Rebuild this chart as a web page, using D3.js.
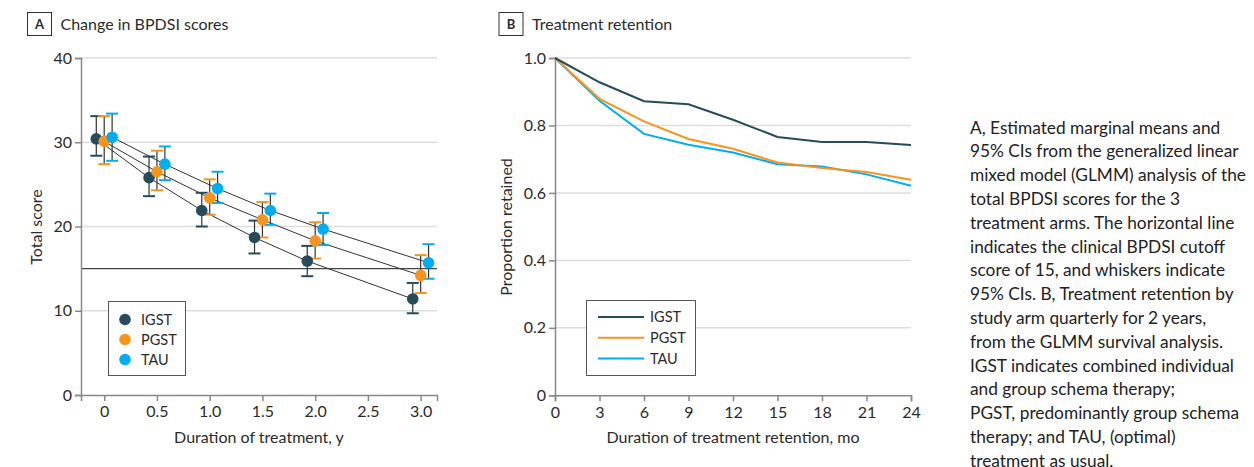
<!DOCTYPE html>
<html lang="en">
<head>
<meta charset="UTF-8">
<title>BPDSI scores and treatment retention</title>
<script src="https://d3js.org/d3.v7.min.js"></script>
<style>
  body { margin: 0; background: #fff; }
  text { font-family: Lato, "Open Sans", sans-serif; fill: #2b2b2b; }
</style>
</head>
<body>
<script>
// ---- data ----
var groups = ["IGST", "PGST", "TAU"];
var colors = ["#264b5b", "#f7941d", "#00aeef"];

// panel A: estimated marginal means with 95% CI
var yearsA = [0, 0.5, 1.0, 1.5, 2.0, 3.0];
var meanIGST = [30.4, 25.8, 21.9, 18.7, 15.9, 11.4];
var lowIGST  = [28.4, 23.6, 20.0, 16.8, 14.1, 9.7];
var highIGST = [33.1, 28.3, 24.0, 20.7, 17.7, 13.3];
var meanPGST = [30.1, 26.5, 23.4, 20.8, 18.3, 14.2];
var lowPGST  = [27.4, 24.3, 21.4, 18.7, 16.2, 12.1];
var highPGST = [33.1, 29.0, 25.6, 22.9, 20.5, 16.6];
var meanTAU  = [30.6, 27.4, 24.5, 21.9, 19.7, 15.7];
var lowTAU   = [27.8, 25.5, 22.8, 20.2, 17.8, 13.8];
var highTAU  = [33.4, 29.5, 26.5, 23.9, 21.6, 17.9];
var offsets  = [-0.075, 0, 0.075];
var cutoff = 15;
var ticksA_x = [0, 0.5, 1.0, 1.5, 2.0, 2.5, 3.0];
var ticksA_y = [0, 10, 20, 30, 40];

// panel B: treatment retention
var monthsB = [0, 3, 6, 9, 12, 15, 18, 21, 24];
var retIGST = [1.0, 0.928, 0.872, 0.863, 0.817, 0.766, 0.751, 0.751, 0.742];
var retPGST = [1.0, 0.879, 0.812, 0.760, 0.731, 0.690, 0.674, 0.662, 0.639];
var retTAU  = [1.0, 0.873, 0.775, 0.743, 0.720, 0.685, 0.678, 0.655, 0.621];
var ticksB_y = [0, 0.2, 0.4, 0.6, 0.8, 1.0];

var caption = [
  "A, Estimated marginal means and",
  "95% CIs from the generalized linear",
  "mixed model (GLMM) analysis of the",
  "total BPDSI scores for the 3",
  "treatment arms. The horizontal line",
  "indicates the clinical BPDSI cutoff",
  "score of 15, and whiskers indicate",
  "95% CIs. B, Treatment retention by",
  "study arm quarterly for 2 years,",
  "from the GLMM survival analysis.",
  "IGST indicates combined individual",
  "and group schema therapy;",
  "PGST, predominantly group schema",
  "therapy; and TAU, (optimal)",
  "treatment as usual."
];

var seriesA = [
  { mean: meanIGST, low: lowIGST, high: highIGST },
  { mean: meanPGST, low: lowPGST, high: highPGST },
  { mean: meanTAU, low: lowTAU, high: highTAU }
];
var seriesB = [retIGST, retPGST, retTAU];

var svg = d3.select("body").append("svg")
  .attr("width", 1254).attr("height", 467);

function panelTitle(x, letter, label) {
  svg.append("rect").attr("x", x).attr("y", 12.5).attr("width", 24).attr("height", 23)
    .attr("fill", "none").attr("stroke", "#333");
  svg.append("text").attr("x", x + 12).attr("y", 29).attr("text-anchor", "middle")
    .attr("font-size", 13).attr("font-weight", "bold").text(letter);
  svg.append("text").attr("x", x + 33).attr("y", 29.5).attr("font-size", 16).text(label);
}

function styleAxis(g) {
  g.selectAll("path").attr("stroke", "#888").attr("stroke-width", 1.5);
  g.selectAll("line").attr("stroke", "#888").attr("stroke-width", 1.5);
  g.selectAll("text").attr("font-size", 16).attr("fill", "#2b2b2b").style("font-family", "Lato, sans-serif");
}

// ---- panel A ----
panelTitle(27.5, "A", "Change in BPDSI scores");

var xA = d3.scaleLinear().domain([-0.22, 3.155]).range([81, 437]);
var yA = d3.scaleLinear().domain([0, 40]).range([395, 58]);

svg.append("g").selectAll("line").data(ticksA_y.filter(function (d) { return d > 0; }))
  .enter().append("line")
  .attr("x1", 81).attr("x2", 437)
  .attr("y1", function (d) { return yA(d); }).attr("y2", function (d) { return yA(d); })
  .attr("stroke", "#ddd").attr("stroke-width", 1.5);

svg.append("line").attr("x1", 81).attr("x2", 437)
  .attr("y1", yA(cutoff)).attr("y2", yA(cutoff))
  .attr("stroke", "#444").attr("stroke-width", 1.2);

var axA_x = svg.append("g").attr("transform", "translate(0,395)")
  .call(d3.axisBottom(xA).tickValues(ticksA_x).tickSizeOuter(0).tickSize(6).tickPadding(5)
    .tickFormat(function (d) { return d === 0 ? "0" : d3.format(".1f")(d); }));
styleAxis(axA_x);
var axA_y = svg.append("g").attr("transform", "translate(81,0)")
  .call(d3.axisLeft(yA).tickValues(ticksA_y).tickSizeOuter(0).tickSize(6).tickPadding(3));
styleAxis(axA_y);

svg.append("text").attr("x", 259).attr("y", 443).attr("text-anchor", "middle")
  .attr("font-size", 16).text("Duration of treatment, y");
svg.append("text").attr("transform", "translate(42,227) rotate(-90)").attr("text-anchor", "middle")
  .attr("font-size", 16).text("Total score");

var lineA = d3.line();
seriesA.forEach(function (s, gi) {
  var pts = yearsA.map(function (t, i) { return [xA(t + offsets[gi]), yA(s.mean[i])]; });
  svg.append("path").attr("d", lineA(pts)).attr("fill", "none")
    .attr("stroke", "#333").attr("stroke-width", 1);
});

seriesA.forEach(function (s, gi) {
  var g = svg.append("g");
  yearsA.forEach(function (t, i) {
    var cx = xA(t + offsets[gi]);
    g.append("line").attr("x1", cx).attr("x2", cx)
      .attr("y1", yA(s.low[i])).attr("y2", yA(s.high[i]))
      .attr("stroke", "#333").attr("stroke-width", 1.2);
    [s.low[i], s.high[i]].forEach(function (v) {
      g.append("line").attr("x1", cx - 6).attr("x2", cx + 6)
        .attr("y1", yA(v)).attr("y2", yA(v))
        .attr("stroke", colors[gi]).attr("stroke-width", 2);
    });
  });
});
seriesA.forEach(function (s, gi) {
  svg.append("g").selectAll("circle").data(yearsA).enter().append("circle")
    .attr("cx", function (t) { return xA(t + offsets[gi]); })
    .attr("cy", function (t, i) { return yA(s.mean[i]); })
    .attr("r", 5.8).attr("fill", colors[gi]);
});

var legA = svg.append("g");
legA.append("rect").attr("x", 108.5).attr("y", 301.5).attr("width", 77).attr("height", 74)
  .attr("fill", "#fff").attr("stroke", "#555");
groups.forEach(function (name, i) {
  legA.append("circle").attr("cx", 125).attr("cy", 319.5 + i * 20).attr("r", 5.8).attr("fill", colors[i]);
  legA.append("text").attr("x", 141).attr("y", 324.5 + i * 20).attr("font-size", 14.5).text(name);
});

// ---- panel B ----
panelTitle(499, "B", "Treatment retention");

var xB = d3.scaleLinear().domain([0, 24]).range([555, 911]);
var yB = d3.scaleLinear().domain([0, 1]).range([395.3, 58]);

svg.append("g").selectAll("line").data(ticksB_y.filter(function (d) { return d > 0; }))
  .enter().append("line")
  .attr("x1", 555).attr("x2", 911)
  .attr("y1", function (d) { return yB(d); }).attr("y2", function (d) { return yB(d); })
  .attr("stroke", "#ddd").attr("stroke-width", 1.5);

var axB_x = svg.append("g").attr("transform", "translate(0,395.3)")
  .call(d3.axisBottom(xB).tickValues(monthsB).tickSizeOuter(0).tickSize(6).tickPadding(5));
styleAxis(axB_x);
var axB_y = svg.append("g").attr("transform", "translate(555,0)")
  .call(d3.axisLeft(yB).tickValues(ticksB_y).tickSizeOuter(0).tickSize(6).tickPadding(3)
    .tickFormat(function (d) { return d === 0 ? "0" : d3.format(".1f")(d); }));
styleAxis(axB_y);

svg.append("text").attr("x", 733).attr("y", 443).attr("text-anchor", "middle")
  .attr("font-size", 16).text("Duration of treatment retention, mo");
svg.append("text").attr("transform", "translate(512,227) rotate(-90)").attr("text-anchor", "middle")
  .attr("font-size", 16).text("Proportion retained");

var lineB = d3.line()
  .x(function (d, i) { return xB(monthsB[i]); })
  .y(function (d) { return yB(d); });
[2, 1, 0].forEach(function (gi) {
  svg.append("path").attr("d", lineB(seriesB[gi])).attr("fill", "none")
    .attr("stroke", colors[gi]).attr("stroke-width", 2);
});

var legB = svg.append("g");
legB.append("rect").attr("x", 586.5).attr("y", 300.5).attr("width", 109).attr("height", 75)
  .attr("fill", "#fff").attr("stroke", "#555");
groups.forEach(function (name, i) {
  legB.append("line").attr("x1", 598).attr("x2", 644)
    .attr("y1", 317 + i * 20.8).attr("y2", 317 + i * 20.8)
    .attr("stroke", colors[i]).attr("stroke-width", 2);
  legB.append("text").attr("x", 650).attr("y", 322 + i * 20.8).attr("font-size", 14.5).text(name);
});

// ---- caption ----
svg.append("g").selectAll("text").data(caption).enter().append("text")
  .attr("x", 970).attr("y", function (d, i) { return 133.5 + i * 23.8; })
  .attr("font-size", 17.3).style("fill", "#222").text(function (d) { return d; });
</script>
</body>
</html>
